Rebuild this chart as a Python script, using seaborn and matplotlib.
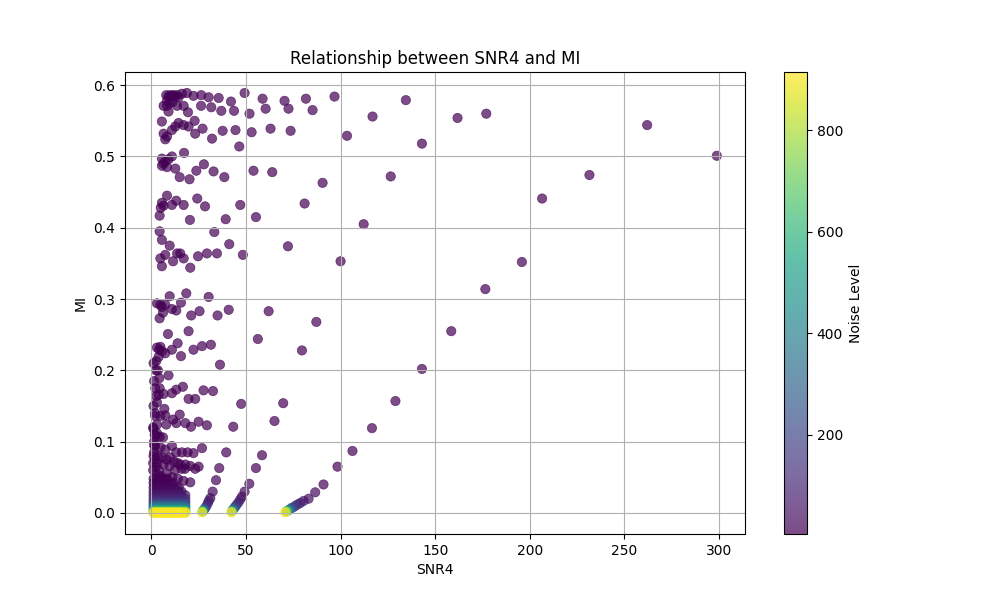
import numpy as np
import pandas as pd
import seaborn as sns
import matplotlib.pyplot as plt
from matplotlib.colors import Normalize
from matplotlib.cm import ScalarMappable

# 低噪声的散点 (颜色都是深紫色)
spread_snr = [
    7.9, 8.3, 9.1, 9.7, 10.0, 10.9, 11.2, 11.8, 12.7, 13.6, 14.4, 16.2, 18.8, 22.3, 26.4, 30.3, 35.6, 42.1, 49.3, 58.8, 70.4, 81.7, 96.8, 134.5,
    6.5, 8.3, 9.1, 13.6, 17.1, 19.4, 26.3, 31.7, 37.0, 43.7, 51.9, 60.4, 72.5, 85.2, 116.9, 161.8, 177.0,
    5.6, 6.5, 7.4, 8.3, 10.9, 12.7, 14.4, 17.1, 19.7, 22.9, 23.2, 27.1, 32.1, 37.7, 44.5, 46.5, 53.0, 63.0, 73.6, 103.4, 143.0, 262.0,
    5.6, 5.6, 6.5, 7.4, 8.3, 9.1, 10.9, 12.7, 15.0, 17.3, 20.2, 23.8, 27.8, 32.9, 38.6, 54.0, 63.9, 90.5, 126.5, 231.5, 298.8,
    4.4, 5.0, 5.6, 6.5, 8.3, 10.9, 13.2, 17.1, 20.4, 24.3, 28.4, 33.3, 39.3, 47.0, 55.3, 81.0, 112.2, 206.5,
    4.4, 4.8, 5.6, 5.6, 7.4, 9.7, 11.5, 13.6, 15.3, 17.1, 20.6, 24.7, 29.4, 34.7, 41.2, 48.4, 72.2, 100.0, 195.8,
    3.0, 4.4, 4.8, 5.6, 6.2, 7.4, 9.7, 10.9, 13.2, 15.7, 18.5, 21.1, 25.5, 30.3, 35.0, 40.9, 62.0, 87.2, 176.5,
    2.6, 3.9, 4.2, 4.8, 5.6, 7.4, 8.8, 10.9, 13.9, 15.7, 19.7, 22.3, 26.8, 31.5, 36.3, 56.3, 79.6, 158.5,
    2.1, 2.6, 3.9, 4.2, 4.4, 6.5, 9.1, 10.9, 13.2, 16.7, 19.7, 23.2, 27.6, 32.6, 47.5, 69.7, 129.0, 143.0,
    1.2, 2.1, 2.1, 3.0, 3.0, 4.4, 4.8, 6.2, 6.9, 7.4, 7.9, 11.5, 13.2, 15.0, 18.0, 21.0, 25.0, 29.4, 43.3, 65.1, 116.6,
    1.2, 1.5, 2.1, 3.0, 4.8, 6.5, 7.4, 9.7, 10.9, 13.2, 16.2, 19.2, 20.6, 22.3, 25.0, 26.8, 39.6,
    1.0, 1.5, 2.0, 2.5, 3.5, 4.0, 5.5, 8.0, 10.0, 12.0, 12.5, 14.0, 15.3, 16.0, 17.8, 18.0, 23.2, 1.0, 2.5, 5.0, 8.0, 11.0, 14.0, 17.0, 20.6,
    1.0, 1.2, 1.5, 1.2, 3.0, 2.5, 1.8, 1.5, 2.0, 3.0, 3.5,
]
spread_mi = [
    0.586, 0.578, 0.584, 0.575, 0.586, 0.585, 0.576, 0.586, 0.584, 0.586, 0.583, 0.588, 0.589, 0.585, 0.586, 0.583, 0.582, 0.577, 0.589, 0.581, 0.578, 0.581, 0.584, 0.579,
    0.571, 0.571, 0.563, 0.571, 0.571, 0.562, 0.571, 0.569, 0.564, 0.564, 0.560, 0.567, 0.567, 0.565, 0.556, 0.554, 0.560,
    0.549, 0.532, 0.524, 0.528, 0.537, 0.542, 0.547, 0.544, 0.542, 0.550, 0.532, 0.539, 0.525, 0.536, 0.537, 0.514, 0.534, 0.539, 0.536, 0.529, 0.518, 0.544,
    0.497, 0.487, 0.490, 0.493, 0.485, 0.496, 0.500, 0.483, 0.471, 0.505, 0.468, 0.480, 0.489, 0.479, 0.471, 0.480, 0.478, 0.463, 0.472, 0.474, 0.501,
    0.417, 0.428, 0.435, 0.431, 0.445, 0.432, 0.438, 0.432, 0.411, 0.441, 0.430, 0.394, 0.412, 0.432, 0.415, 0.434, 0.405, 0.441,
    0.395, 0.357, 0.383, 0.346, 0.362, 0.375, 0.353, 0.364, 0.364, 0.357, 0.344, 0.360, 0.364, 0.364, 0.377, 0.362, 0.374, 0.353, 0.352,
    0.294, 0.273, 0.292, 0.289, 0.281, 0.292, 0.304, 0.286, 0.284, 0.295, 0.308, 0.277, 0.283, 0.303, 0.277, 0.285, 0.283, 0.268, 0.314,
    0.213, 0.219, 0.229, 0.233, 0.227, 0.224, 0.251, 0.229, 0.238, 0.220, 0.255, 0.229, 0.234, 0.236, 0.208, 0.244, 0.228, 0.255,
    0.175, 0.164, 0.166, 0.189, 0.175, 0.167, 0.193, 0.168, 0.173, 0.177, 0.160, 0.160, 0.172, 0.171, 0.153, 0.154, 0.157, 0.202,
    0.118, 0.136, 0.108, 0.124, 0.112, 0.107, 0.136, 0.106, 0.146, 0.137, 0.124, 0.131, 0.126, 0.138, 0.126, 0.121, 0.128, 0.123, 0.121, 0.129, 0.119,
    0.080, 0.095, 0.094, 0.070, 0.092, 0.068, 0.089, 0.066, 0.094, 0.085, 0.085, 0.085, 0.066, 0.084, 0.065, 0.091, 0.085,
    0.060, 0.085, 0.075, 0.055, 0.080, 0.060, 0.078, 0.075, 0.078, 0.072, 0.060, 0.070, 0.068, 0.062, 0.062, 0.068, 0.062, 0.070, 0.065, 0.052, 0.055, 0.050, 0.048, 0.045, 0.043,
    0.120, 0.150, 0.185, 0.210, 0.232, 0.200, 0.110, 0.100, 0.140, 0.155, 0.200,
]
spread_noise = 5

# 三条曲线的尾部 (噪声越大 SNR4 越小)
tail_a_snr = [106.3, 98.4, 91.0, 86.6, 83.1, 80.5, 78.7, 77.3, 76.1, 75.0, 74.0, 73.2, 72.4, 71.8, 71.3, 70.8]
tail_a_mi = [0.087, 0.065, 0.040, 0.029, 0.020, 0.017, 0.014, 0.012, 0.010, 0.008, 0.007, 0.005, 0.004, 0.003, 0.002, 0.001]
tail_a_noise = [8, 12, 18, 28, 40, 55, 75, 100, 130, 170, 230, 310, 420, 560, 720, 915]

tail_b_snr = [58.5, 55.3, 51.8, 49.3, 47.9, 47.0, 46.1, 45.2, 44.4, 43.8, 43.2, 42.8, 42.5, 42.3]
tail_b_mi = [0.081, 0.063, 0.041, 0.030, 0.023, 0.019, 0.015, 0.012, 0.009, 0.007, 0.005, 0.003, 0.002, 0.001]
tail_b_noise = [8, 12, 18, 28, 40, 55, 80, 110, 160, 230, 330, 480, 680, 915]

tail_c_snr = [35.9, 34.2, 32.4, 31.2, 30.4, 29.9, 29.2, 28.5, 28.0, 27.6, 27.3, 27.0, 26.8]
tail_c_mi = [0.063, 0.046, 0.030, 0.021, 0.017, 0.014, 0.010, 0.007, 0.005, 0.004, 0.003, 0.002, 0.001]
tail_c_noise = [12, 18, 28, 40, 55, 80, 110, 160, 230, 330, 480, 680, 915]

# 原点附近的密集区域: 每一行 MI 相同
block_cols = [1.2, 2.6, 4.0, 5.5, 7.0, 8.5, 10.0, 11.5, 13.0, 14.5, 16.0, 18.0]
block_mi = [0.000, 0.001, 0.002, 0.004, 0.007, 0.010, 0.013, 0.016, 0.020, 0.025, 0.030, 0.036, 0.042, 0.048]
block_noise = [915, 850, 750, 520, 400, 290, 200, 140, 95, 60, 35, 20, 12, 8]
block_width = [12, 12, 12, 12, 12, 12, 12, 12, 12, 12, 11, 10, 8, 6]

frames = [pd.DataFrame({'SNR4': spread_snr, 'MI': spread_mi, 'Noise Level': spread_noise})]
frames.append(pd.DataFrame({'SNR4': tail_a_snr, 'MI': tail_a_mi, 'Noise Level': tail_a_noise}))
frames.append(pd.DataFrame({'SNR4': tail_b_snr, 'MI': tail_b_mi, 'Noise Level': tail_b_noise}))
frames.append(pd.DataFrame({'SNR4': tail_c_snr, 'MI': tail_c_mi, 'Noise Level': tail_c_noise}))
for m, n, w in zip(block_mi, block_noise, block_width):
    frames.append(pd.DataFrame({'SNR4': block_cols[:w], 'MI': m, 'Noise Level': n}))
df = pd.concat(frames, ignore_index=True)
df = df.sort_values('Noise Level', kind='stable')

norm = Normalize(vmin=5, vmax=915)

fig, ax = plt.subplots(figsize=(10, 6))
sns.scatterplot(data=df, x='SNR4', y='MI', hue='Noise Level', palette='viridis',
                hue_norm=norm, alpha=0.7, s=45, edgecolor='face', linewidth=0.5,
                legend=False, ax=ax)
sm = ScalarMappable(norm=norm, cmap='viridis')
fig.colorbar(sm, ax=ax, alpha=0.7, label='Noise Level')
ax.set_title('Relationship between SNR4 and MI')
ax.set_xlabel('SNR4')
ax.set_ylabel('MI')
ax.grid(True)
fig.savefig('out.png', dpi=100)
